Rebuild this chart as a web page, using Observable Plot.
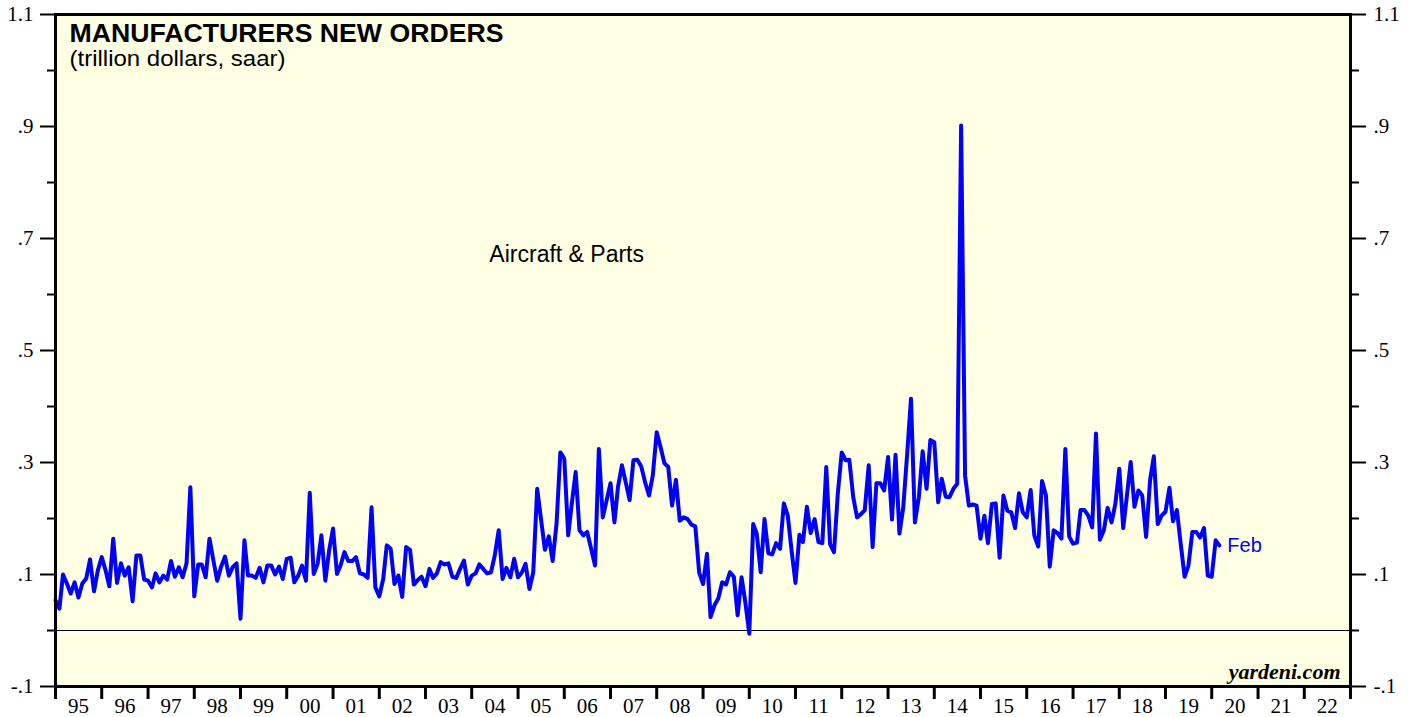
<!DOCTYPE html>
<html><head><meta charset="utf-8">
<script src="https://cdn.jsdelivr.net/npm/d3@7"></script>
<script src="https://cdn.jsdelivr.net/npm/@observablehq/plot@0.6"></script>
<style>html,body{margin:0;padding:0;background:#fff;overflow:hidden}</style>
</head><body><div id="chart"></div>
<script>
// Monthly values, trillion dollars saar, first value = Dec 1994 (plotted at month end)
const firstMonth = {year: 1994, month: 11};
const ordersDec94toNov99 = [
  0.054,0.039,0.100,0.084,0.066,0.086,0.059,0.084,0.093,0.127,0.070,0.107,
  0.131,0.107,0.079,0.164,0.085,0.120,0.098,0.113,0.052,0.134,0.134,0.091,
  0.089,0.077,0.102,0.086,0.098,0.091,0.124,0.096,0.113,0.095,0.120,0.256,
  0.061,0.118,0.118,0.095,0.164,0.125,0.089,0.114,0.132,0.098,0.113,0.120,
  0.021,0.161,0.098,0.098,0.094,0.112,0.086,0.116,0.116,0.100,0.114,0.092
];
const ordersDec99toNov04 = [
  0.128,0.130,0.086,0.098,0.116,0.089,0.246,0.101,0.119,0.170,0.089,0.143,
  0.182,0.101,0.116,0.140,0.124,0.124,0.131,0.102,0.100,0.094,0.220,0.077,
  0.061,0.092,0.152,0.146,0.083,0.098,0.060,0.149,0.144,0.082,0.090,0.096,
  0.079,0.110,0.094,0.102,0.122,0.118,0.120,0.096,0.094,0.110,0.125,0.082,
  0.098,0.102,0.118,0.110,0.102,0.104,0.134,0.179,0.092,0.112,0.095,0.128
];
const ordersDec04toNov09 = [
  0.095,0.104,0.119,0.074,0.104,0.253,0.199,0.144,0.168,0.124,0.191,0.318,
  0.307,0.170,0.226,0.283,0.179,0.170,0.176,0.146,0.116,0.324,0.202,0.232,
  0.263,0.193,0.256,0.295,0.265,0.233,0.304,0.305,0.293,0.265,0.241,0.277,
  0.354,0.327,0.299,0.292,0.223,0.269,0.196,0.202,0.199,0.189,0.186,0.104,
  0.083,0.137,0.024,0.045,0.057,0.086,0.082,0.104,0.096,0.027,0.095,0.050
];
const ordersDec09toNov14 = [
  -0.006,0.190,0.173,0.104,0.199,0.138,0.136,0.156,0.146,0.227,0.205,0.143,
  0.085,0.171,0.158,0.221,0.174,0.199,0.158,0.156,0.292,0.154,0.140,0.244,
  0.318,0.304,0.305,0.238,0.202,0.208,0.215,0.295,0.149,0.263,0.263,0.250,
  0.310,0.198,0.314,0.173,0.220,0.316,0.414,0.193,0.238,0.320,0.253,0.340,
  0.336,0.229,0.271,0.239,0.238,0.253,0.262,0.902,0.277,0.223,0.225,0.223
];
const ordersDec14toFeb20 = [
  0.164,0.205,0.156,0.226,0.227,0.130,0.241,0.214,0.211,0.183,0.245,0.211,
  0.202,0.251,0.170,0.150,0.267,0.241,0.114,0.179,0.174,0.164,0.324,0.168,
  0.155,0.157,0.215,0.215,0.205,0.184,0.352,0.162,0.179,0.219,0.193,0.226,
  0.289,0.183,0.238,0.301,0.221,0.250,0.241,0.167,0.268,0.311,0.190,0.205,
  0.212,0.255,0.195,0.215,0.155,0.096,0.116,0.176,0.176,0.166,0.183,0.098,
  0.096,0.161,0.152
];
const majorTicks = [-0.1, 0.1, 0.3, 0.5, 0.7, 0.9, 1.1];
const minorTicks = [0, 0.2, 0.4, 0.6, 0.8, 1.0];
const years = d3.range(1995, 2023);
const seriesLabel = [{text: "Aircraft & Parts", date: new Date(Date.UTC(2006, 0, 20)), value: 0.671}];
const titleText = "MANUFACTURERS NEW ORDERS";
const subtitleText = "(trillion dollars, saar)";
const sourceText = "yardeni.com";

const values = [].concat(ordersDec94toNov99, ordersDec99toNov04, ordersDec04toNov09, ordersDec09toNov14, ordersDec14toFeb20);
const start = new Date(Date.UTC(firstMonth.year, firstMonth.month, 1));
const data = values.map((v, i) => ({date: d3.utcMonth.offset(start, i + 1), value: v}));
const last = data[data.length - 1];

const yearStarts = d3.range(1995, 2024).map(y => new Date(Date.UTC(y, 0, 1)));
const midYears = years.map(y => new Date(Date.UTC(y, 6, 2)));
const fmt = d => String(Math.round(d * 10) / 10).replace("0.", ".");
const serif = "'Liberation Serif', 'Times New Roman', serif";
const sans = "'Liberation Sans', Arial, sans-serif";

const chart = Plot.plot({
  width: 1416, height: 717,
  marginLeft: 55, marginRight: 66, marginTop: 14, marginBottom: 31,
  style: {background: "white", fontFamily: serif, fontSize: "21px", color: "black", overflow: "visible"},
  x: {type: "utc", domain: [yearStarts[0], yearStarts[yearStarts.length - 1]]},
  y: {domain: [-0.1, 1.1]},
  marks: [
    Plot.frame({fill: "#FFFFE3"}),
    Plot.ruleY([0], {stroke: "black", strokeWidth: 1}),
    Plot.line(data, {x: "date", y: "value", stroke: "#0000FF", strokeWidth: 4, strokeLinejoin: "round", strokeLinecap: "round"}),
    Plot.frame({stroke: "black", strokeWidth: 3}),
    Plot.axisY({anchor: "left", ticks: majorTicks, tickSize: 15, tickPadding: 7, tickFormat: fmt, strokeWidth: 2, label: null, fontSize: 21, fontFamily: serif}),
    Plot.axisY({anchor: "right", ticks: majorTicks, tickSize: 15, tickPadding: 8, tickFormat: fmt, strokeWidth: 2, label: null, fontSize: 21, fontFamily: serif}),
    Plot.axisY({anchor: "left", ticks: minorTicks, tickSize: 8, tickFormat: () => "", strokeWidth: 2, label: null}),
    Plot.axisY({anchor: "right", ticks: minorTicks, tickSize: 8, tickFormat: () => "", strokeWidth: 2, label: null}),
    Plot.axisX({ticks: yearStarts, tickSize: 13, tickFormat: () => "", strokeWidth: 3, label: null}),
    Plot.axisX({ticks: midYears, tickSize: 0, tickPadding: 12, tickFormat: d => String(d.getUTCFullYear() % 100).padStart(2, "0"), label: null, fontSize: 21, fontFamily: serif}),
    Plot.text([titleText], {frameAnchor: "top-left", dx: 14, dy: 10, lineAnchor: "top", textAnchor: "start", fontWeight: "bold", fontSize: 25, fontFamily: sans, fill: "black"}),
    Plot.text([subtitleText], {frameAnchor: "top-left", dx: 14, dy: 36, lineAnchor: "top", textAnchor: "start", fontSize: 22, fontFamily: sans, fill: "black"}),
    Plot.text(seriesLabel, {x: "date", y: "value", text: "text", fontSize: 23, fontFamily: sans, fill: "black"}),
    Plot.text([last], {x: "date", y: "value", text: () => "Feb", dx: 8, textAnchor: "start", fontSize: 20, fontFamily: sans, fill: "#0000FF"}),
    Plot.text([sourceText], {frameAnchor: "bottom-right", dx: -10, dy: -8, lineAnchor: "bottom", textAnchor: "end", fontWeight: "bold", fontStyle: "italic", fontSize: 22, fontFamily: serif, fill: "black"})
  ]
});
document.getElementById("chart").appendChild(chart);
d3.select(chart).selectAll("text").each(function() {
  const t = this.textContent;
  if (t === titleText) d3.select(this).attr("textLength", 434).attr("lengthAdjust", "spacingAndGlyphs");
  if (t === subtitleText) d3.select(this).attr("textLength", 216).attr("lengthAdjust", "spacingAndGlyphs");
});
</script>
</body></html>
